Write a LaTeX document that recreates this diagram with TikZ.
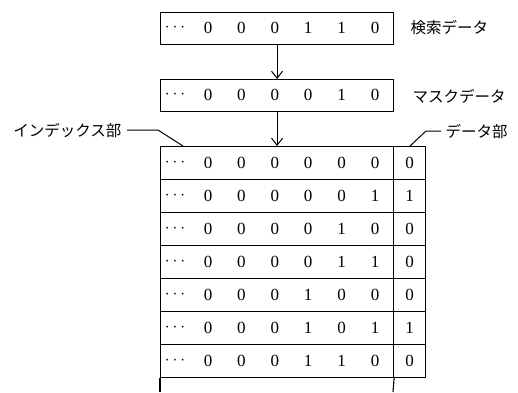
\documentclass[tikz,border=0pt]{standalone}
\usepackage{fontspec}
\setmainfont{Liberation Serif}
\newfontfamily\jp{Noto Sans CJK JP}
\usetikzlibrary{arrows.meta}
\begin{document}
\begin{tikzpicture}[x=1pt,y=-1pt,line width=1.1pt,
  box/.style={draw,anchor=north west,minimum width=233pt,minimum height=32pt,inner sep=0pt},
  rowbox/.style={draw,anchor=north west,minimum width=233pt,minimum height=33pt,inner sep=0pt},
  databox/.style={draw,anchor=north west,minimum width=32pt,minimum height=33pt,inner sep=0pt},
  digit/.style={inner sep=0pt,font=\fontsize{17}{17}\selectfont},
  lbl/.style={inner sep=0pt,font=\jp\fontsize{15.5}{16}\selectfont},
  arr/.style={-{Straight Barb[length=7pt,width=11pt,line width=1pt]},line width=1.1pt},
  leader/.style={line width=1pt}]
\useasboundingbox (0,0) rectangle (518,392);
% search data
\node[box] (search) at (160,12) {};
\node[digit] (sdots) at (175,28) {$\cdots$};
\foreach \v [count=\i] in {0,0,0,1,1,0}
  \node[digit] (s\i) at ({174.6+33.4*\i},28) {\v};
\node[lbl,anchor=west] (slbl) at (410,28) {検索データ};
% mask data
\node[box] (mask) at (160,79) {};
\node[digit] (mdots) at (175,95) {$\cdots$};
\foreach \v [count=\i] in {0,0,0,0,1,0}
  \node[digit] (m\i) at ({174.6+33.4*\i},95) {\v};
\node[lbl,anchor=west] (mlbl) at (412,96) {マスクデータ};
% table
\foreach \a/\b/\c/\d/\e/\f/\g [count=\k] in
  {0/0/0/0/0/0/0, 0/0/0/0/0/1/1, 0/0/0/0/1/0/0, 0/0/0/0/1/1/0,
   0/0/0/1/0/0/0, 0/0/0/1/0/1/1, 0/0/0/1/1/0/0}{
  \node[rowbox] (r\k) at (160,{146+33*(\k-1)}) {};
  \node[databox] (d\k) at (393,{146+33*(\k-1)}) {};
  \node[digit] (r\k dots) at (175,{162.5+33*(\k-1)}) {$\cdots$};
  \foreach \v [count=\i] in {\a,\b,\c,\d,\e,\f}
    \node[digit] (r\k c\i) at ({174.6+33.4*\i},{162.5+33*(\k-1)}) {\v};
  \node[digit] (d\k v) at (d\k.center) {\g};
}
\coordinate (lb) at (160,392);
\coordinate (sb) at (393,392);
\draw (r7.south west) -- (lb);
\draw (r7.south east) -- (sb);
% arrows
\draw[arr] (search.south) -- (mask.north);
\draw[arr] (mask.south) -- (r1.north);
% leaders
\node[lbl,anchor=east] (ilbl) at (122,131) {インデックス部};
\coordinate (ia) at (127,130);
\coordinate (ib) at (158,130);
\coordinate (ic) at (183,146);
\draw[leader] (ia) -- (ib) -- (ic);
\node[lbl,anchor=west] (dlbl) at (445,132) {データ部};
\coordinate (da) at (441,131);
\coordinate (db) at (426,131);
\coordinate (dc) at (410,146);
\draw[leader] (da) -- (db) -- (dc);
\end{tikzpicture}
\end{document}
